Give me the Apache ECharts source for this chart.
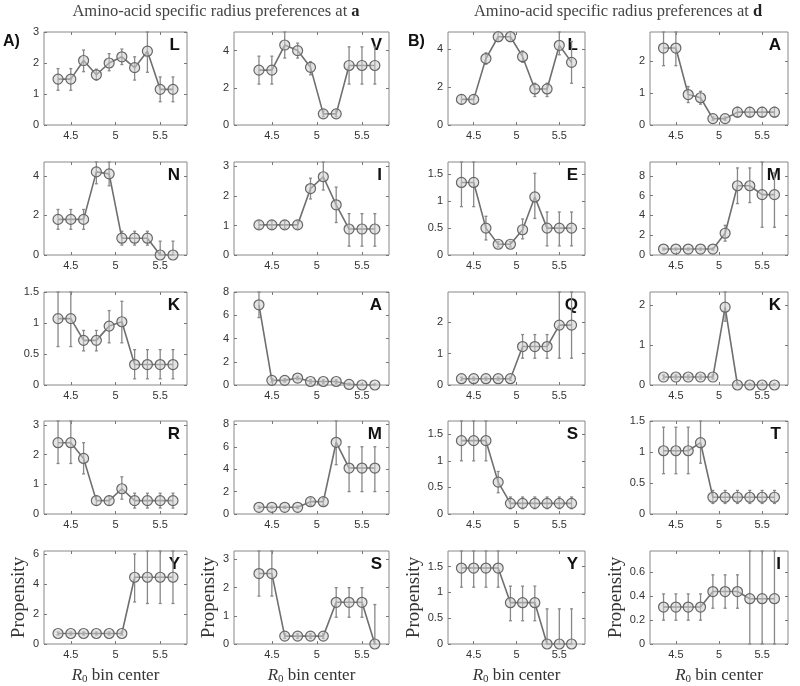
<!DOCTYPE html>
<html>
<head>
<meta charset="utf-8">
<script src="https://cdn.jsdelivr.net/npm/echarts@6/dist/echarts.min.js"></script>
<style>
html,body{margin:0;padding:0;background:#fff;}
#chart{width:800px;height:686px;}
</style>
</head>
<body>
<div id="chart"></div>
<script>
// ---- data ----
const xCenters = [4.357, 4.5, 4.643, 4.786, 4.929, 5.071, 5.214, 5.357, 5.5, 5.643];
const xTicks = [4.5, 5, 5.5];

const A_L_val = [1.48, 1.48, 2.08, 1.62, 2.0, 2.2, 1.85, 2.38, 1.15, 1.15];
const A_L_lo  = [1.12, 1.12, 1.72, 1.45, 1.75, 1.95, 1.45, 1.7, 0.75, 0.75];
const A_L_hi  = [1.82, 1.82, 2.42, 1.8, 2.3, 2.45, 2.2, 3.0, 1.55, 1.55];
const A_L_ticks = [0, 1, 2, 3];

const A_V_val = [2.95, 2.95, 4.3, 4.0, 3.1, 0.6, 0.6, 3.2, 3.2, 3.2];
const A_V_lo  = [2.2, 2.2, 3.6, 3.6, 2.7, 0.45, 0.45, 2.2, 2.2, 2.2];
const A_V_hi  = [3.7, 3.7, 5.0, 4.4, 3.4, 0.75, 0.75, 4.2, 4.2, 4.2];
const A_V_ticks = [0, 2, 4];

const B_L_val = [1.35, 1.35, 3.5, 4.65, 4.65, 3.6, 1.9, 1.9, 4.2, 3.3];
const B_L_lo  = [1.1, 1.1, 3.2, 4.4, 4.4, 3.3, 1.5, 1.5, 3.7, 2.2];
const B_L_hi  = [1.6, 1.6, 3.8, 4.9, 4.9, 3.9, 2.2, 2.2, 4.9, 4.4];
const B_L_ticks = [0, 2, 4];

const B_A_val = [2.4, 2.4, 0.95, 0.85, 0.2, 0.2, 0.4, 0.4, 0.4, 0.4];
const B_A_lo  = [1.85, 1.85, 0.7, 0.65, 0.15, 0.15, 0.25, 0.25, 0.25, 0.25];
const B_A_hi  = [2.9, 2.9, 1.2, 1.05, 0.25, 0.25, 0.55, 0.55, 0.55, 0.55];
const B_A_ticks = [0, 1, 2];

const A_N_val = [1.8, 1.8, 1.8, 4.2, 4.1, 0.85, 0.85, 0.85, 0, 0];
const A_N_lo  = [1.3, 1.3, 1.3, 3.6, 3.5, 0.5, 0.5, 0.5, 0, 0];
const A_N_hi  = [2.3, 2.3, 2.3, 4.7, 4.7, 1.2, 1.2, 1.2, 0.7, 0.7];
const A_N_ticks = [0, 2, 4];

const A_I_val = [1.02, 1.02, 1.02, 1.02, 2.25, 2.65, 1.7, 0.88, 0.88, 0.88];
const A_I_lo  = [0.9, 0.9, 0.9, 0.9, 1.9, 2.2, 1.1, 0.3, 0.3, 0.3];
const A_I_hi  = [1.15, 1.15, 1.15, 1.15, 2.6, 3.15, 2.3, 1.4, 1.4, 1.4];
const A_I_ticks = [0, 1, 2, 3];

const B_E_val = [1.35, 1.35, 0.5, 0.2, 0.2, 0.47, 1.08, 0.5, 0.5, 0.5];
const B_E_lo  = [0.9, 0.9, 0.28, 0.15, 0.15, 0.3, 0.68, 0.17, 0.17, 0.17];
const B_E_hi  = [1.73, 1.73, 0.72, 0.25, 0.25, 0.67, 1.52, 0.8, 0.8, 0.8];
const B_E_ticks = [0, 0.5, 1, 1.5];

const B_M_val = [0.6, 0.6, 0.6, 0.6, 0.6, 2.2, 7.0, 7.0, 6.1, 6.1];
const B_M_lo  = [0.5, 0.5, 0.5, 0.5, 0.5, 1.4, 5.2, 5.3, 2.8, 2.8];
const B_M_hi  = [0.7, 0.7, 0.7, 0.7, 0.7, 3.0, 8.8, 8.8, 9.4, 8.3];
const B_M_ticks = [0, 2, 4, 6, 8];

const A_K_val = [1.07, 1.07, 0.72, 0.72, 0.95, 1.02, 0.33, 0.33, 0.33, 0.33];
const A_K_lo  = [0.62, 0.62, 0.55, 0.55, 0.68, 0.68, 0.1, 0.1, 0.1, 0.1];
const A_K_hi  = [1.5, 1.5, 0.88, 0.88, 1.2, 1.35, 0.57, 0.57, 0.57, 0.57];
const A_K_ticks = [0, 0.5, 1, 1.5];

const A_A_val = [6.9, 0.4, 0.4, 0.6, 0.3, 0.3, 0.3, 0.05, 0, 0];
const A_A_lo  = [5.8, 0.25, 0.25, 0.45, 0.15, 0.15, 0.15, 0, 0, 0];
const A_A_hi  = [8.0, 0.55, 0.55, 0.75, 0.45, 0.45, 0.45, 0.15, 0.1, 0.1];
const A_A_ticks = [0, 2, 4, 6, 8];

const B_Q_val = [0.2, 0.2, 0.2, 0.2, 0.2, 1.22, 1.22, 1.22, 1.9, 1.9];
const B_Q_lo  = [0.15, 0.15, 0.15, 0.15, 0.15, 0.85, 0.85, 0.85, 0.85, 0.85];
const B_Q_hi  = [0.25, 0.25, 0.25, 0.25, 0.25, 1.6, 1.6, 1.6, 2.95, 2.95];
const B_Q_ticks = [0, 1, 2];

const B_K_val = [0.2, 0.2, 0.2, 0.2, 0.2, 1.95, 0, 0, 0, 0];
const B_K_lo  = [0.15, 0.15, 0.15, 0.15, 0.15, 1.6, 0, 0, 0, 0];
const B_K_hi  = [0.25, 0.25, 0.25, 0.25, 0.25, 2.33, 0.03, 0.03, 0.03, 0.03];
const B_K_ticks = [0, 1, 2];

const A_R_val = [2.4, 2.4, 1.87, 0.45, 0.45, 0.85, 0.45, 0.45, 0.45, 0.45];
const A_R_lo  = [1.7, 1.7, 1.35, 0.3, 0.3, 0.5, 0.2, 0.2, 0.2, 0.2];
const A_R_hi  = [3.13, 3.13, 2.4, 0.6, 0.6, 1.25, 0.7, 0.7, 0.7, 0.7];
const A_R_ticks = [0, 1, 2, 3];

const A_M_val = [0.6, 0.6, 0.6, 0.6, 1.1, 1.1, 6.4, 4.1, 4.1, 4.1];
const A_M_lo  = [0.5, 0.5, 0.5, 0.5, 0.8, 0.8, 4.4, 2.0, 2.0, 2.0];
const A_M_hi  = [0.7, 0.7, 0.7, 0.7, 1.4, 1.4, 8.3, 6.0, 6.0, 6.0];
const A_M_ticks = [0, 2, 4, 6, 8];

const B_S_val = [1.38, 1.38, 1.38, 0.6, 0.2, 0.2, 0.2, 0.2, 0.2, 0.2];
const B_S_lo  = [1.0, 1.0, 1.0, 0.4, 0.1, 0.1, 0.1, 0.1, 0.1, 0.1];
const B_S_hi  = [1.75, 1.75, 1.75, 0.8, 0.32, 0.32, 0.32, 0.32, 0.32, 0.32];
const B_S_ticks = [0, 0.5, 1, 1.5];

const B_T_val = [1.02, 1.02, 1.02, 1.15, 0.27, 0.27, 0.27, 0.27, 0.27, 0.27];
const B_T_lo  = [0.65, 0.65, 0.65, 0.82, 0.17, 0.17, 0.17, 0.17, 0.17, 0.17];
const B_T_hi  = [1.4, 1.4, 1.4, 1.5, 0.38, 0.38, 0.38, 0.38, 0.38, 0.38];
const B_T_ticks = [0, 0.5, 1, 1.5];

const A_Y_val = [0.7, 0.7, 0.7, 0.7, 0.7, 0.7, 4.45, 4.45, 4.45, 4.45];
const A_Y_lo  = [0.6, 0.6, 0.6, 0.6, 0.6, 0.6, 2.8, 2.7, 2.7, 2.7];
const A_Y_hi  = [0.8, 0.8, 0.8, 0.8, 0.8, 0.8, 6.0, 6.2, 6.2, 6.2];
const A_Y_ticks = [0, 2, 4, 6];

const A_S_val = [2.5, 2.5, 0.28, 0.28, 0.28, 0.28, 1.48, 1.48, 1.48, 0];
const A_S_lo  = [1.7, 1.7, 0.2, 0.2, 0.2, 0.2, 0.95, 0.95, 0.95, 0];
const A_S_hi  = [3.3, 3.3, 0.36, 0.36, 0.36, 0.36, 2.0, 2.0, 2.0, 1.4];
const A_S_ticks = [0, 1, 2, 3];

const B_Y_val = [1.47, 1.47, 1.47, 1.47, 0.8, 0.8, 0.8, 0, 0, 0];
const B_Y_lo  = [1.1, 1.1, 1.1, 1.1, 0.45, 0.45, 0.45, 0, 0, 0];
const B_Y_hi  = [1.8, 1.8, 1.8, 1.8, 1.12, 1.12, 1.12, 0.68, 0.68, 0.68];
const B_Y_ticks = [0, 0.5, 1, 1.5];

const B_I_val = [0.31, 0.31, 0.31, 0.31, 0.44, 0.44, 0.44, 0.38, 0.38, 0.38];
const B_I_lo  = [0.2, 0.2, 0.2, 0.2, 0.3, 0.3, 0.3, 0, 0, 0];
const B_I_hi  = [0.42, 0.42, 0.42, 0.42, 0.58, 0.58, 0.58, 0.78, 0.78, 0.78];
const B_I_ticks = [0, 0.2, 0.4, 0.6];

// ---- panel list (row, col, y-range) ----
const panels = [
  {t:'L', r:0, c:0, v:A_L_val, lo:A_L_lo, hi:A_L_hi, ymax:3,    yt:A_L_ticks},
  {t:'V', r:0, c:1, v:A_V_val, lo:A_V_lo, hi:A_V_hi, ymax:5,    yt:A_V_ticks},
  {t:'L', r:0, c:2, v:B_L_val, lo:B_L_lo, hi:B_L_hi, ymax:4.9,  yt:B_L_ticks},
  {t:'A', r:0, c:3, v:B_A_val, lo:B_A_lo, hi:B_A_hi, ymax:2.9,  yt:B_A_ticks},
  {t:'N', r:1, c:0, v:A_N_val, lo:A_N_lo, hi:A_N_hi, ymax:4.7,  yt:A_N_ticks},
  {t:'I', r:1, c:1, v:A_I_val, lo:A_I_lo, hi:A_I_hi, ymax:3.15, yt:A_I_ticks},
  {t:'E', r:1, c:2, v:B_E_val, lo:B_E_lo, hi:B_E_hi, ymax:1.73, yt:B_E_ticks},
  {t:'M', r:1, c:3, v:B_M_val, lo:B_M_lo, hi:B_M_hi, ymax:9.4,  yt:B_M_ticks},
  {t:'K', r:2, c:0, v:A_K_val, lo:A_K_lo, hi:A_K_hi, ymax:1.5,  yt:A_K_ticks},
  {t:'A', r:2, c:1, v:A_A_val, lo:A_A_lo, hi:A_A_hi, ymax:8,    yt:A_A_ticks},
  {t:'Q', r:2, c:2, v:B_Q_val, lo:B_Q_lo, hi:B_Q_hi, ymax:2.95, yt:B_Q_ticks},
  {t:'K', r:2, c:3, v:B_K_val, lo:B_K_lo, hi:B_K_hi, ymax:2.33, yt:B_K_ticks},
  {t:'R', r:3, c:0, v:A_R_val, lo:A_R_lo, hi:A_R_hi, ymax:3.13, yt:A_R_ticks},
  {t:'M', r:3, c:1, v:A_M_val, lo:A_M_lo, hi:A_M_hi, ymax:8.3,  yt:A_M_ticks},
  {t:'S', r:3, c:2, v:B_S_val, lo:B_S_lo, hi:B_S_hi, ymax:1.75, yt:B_S_ticks},
  {t:'T', r:3, c:3, v:B_T_val, lo:B_T_lo, hi:B_T_hi, ymax:1.5,  yt:B_T_ticks},
  {t:'Y', r:4, c:0, v:A_Y_val, lo:A_Y_lo, hi:A_Y_hi, ymax:6.2,  yt:A_Y_ticks},
  {t:'S', r:4, c:1, v:A_S_val, lo:A_S_lo, hi:A_S_hi, ymax:3.3,  yt:A_S_ticks},
  {t:'Y', r:4, c:2, v:B_Y_val, lo:B_Y_lo, hi:B_Y_hi, ymax:1.8,  yt:B_Y_ticks},
  {t:'I', r:4, c:3, v:B_I_val, lo:B_I_lo, hi:B_I_hi, ymax:0.78, yt:B_I_ticks}
];

// ---- layout ----
const colLeft  = [44, 234, 448, 650];
const colWidth = [143, 155, 137, 138];
const colXmin  = [4.2, 4.08, 4.2, 4.2];
const xMax = 5.8;
const rowTop = [32, 162, 292, 421, 551];
const panelH = 93;

const sans = 'Liberation Sans, Arial, sans-serif';
const serif = 'Liberation Serif, DejaVu Serif, serif';
const grey = '#777';

const grids = [], xAxes = [], yAxes = [], series = [], graphics = [];

panels.forEach((p, i) => {
  const left = colLeft[p.c], width = colWidth[p.c], top = rowTop[p.r];
  grids.push({left: left, top: top, width: width, height: panelH,
    show: true, borderColor: '#888', borderWidth: 1, backgroundColor: 'transparent'});
  const last = p.r === 4;
  const xBase = {type: 'value', gridIndex: i, min: colXmin[p.c], max: xMax,
    splitLine: {show: false}, axisLine: {show: false, onZero: false},
    axisTick: {show: true, inside: true, length: 3, customValues: xTicks, lineStyle: {color: grey}}};
  xAxes.push(Object.assign({}, xBase, {position: 'bottom',
    axisLabel: {customValues: xTicks, fontSize: 11, color: '#333', margin: 5, fontFamily: sans},
    name: last ? '{i|R}{s|0} bin center' : '', nameLocation: 'middle', nameGap: 22,
    nameTextStyle: {fontFamily: serif, fontSize: 17, color: '#333',
      rich: {i: {fontFamily: serif, fontStyle: 'italic', fontSize: 17, color: '#333'},
             s: {fontFamily: serif, fontSize: 11, color: '#333', verticalAlign: 'bottom', padding: [8, 0, 0, 0]}}}}));
  xAxes.push(Object.assign({}, xBase, {position: 'top', axisLabel: {show: false}}));
  const yBase = {type: 'value', gridIndex: i, min: 0, max: p.ymax,
    splitLine: {show: false}, axisLine: {show: false, onZero: false},
    axisTick: {show: true, inside: true, length: 3, customValues: p.yt, lineStyle: {color: grey}}};
  yAxes.push(Object.assign({}, yBase, {position: 'left',
    axisLabel: {customValues: p.yt, fontSize: 11, color: '#333', margin: 5, fontFamily: sans},
    name: last ? 'Propensity' : '', nameLocation: 'middle', nameGap: 15, nameRotate: 90,
    nameTextStyle: {fontFamily: serif, fontSize: 19, color: '#333'}}));
  yAxes.push(Object.assign({}, yBase, {position: 'right', axisLabel: {show: false}}));

  series.push({
    type: 'custom', xAxisIndex: 2 * i, yAxisIndex: 2 * i, z: 2, silent: true,
    data: xCenters.map((x, k) => [x, p.lo[k], p.hi[k]]),
    encode: {x: 0, y: [1, 2]},
    renderItem: function (params, api) {
      const x = api.value(0);
      const a = api.coord([x, api.value(1)]);
      const b = api.coord([x, api.value(2)]);
      const st = {stroke: '#888', lineWidth: 1.3};
      return {type: 'group', children: [
        {type: 'line', shape: {x1: a[0], y1: a[1], x2: b[0], y2: b[1]}, style: st},
        {type: 'line', shape: {x1: a[0] - 1.5, y1: a[1], x2: a[0] + 1.5, y2: a[1]}, style: st},
        {type: 'line', shape: {x1: b[0] - 1.5, y1: b[1], x2: b[0] + 1.5, y2: b[1]}, style: st}
      ]};
    }
  });
  series.push({
    type: 'line', xAxisIndex: 2 * i, yAxisIndex: 2 * i, z: 3, silent: true,
    data: xCenters.map((x, k) => [x, p.v[k]]),
    symbol: 'circle', symbolSize: 10, showSymbol: true,
    lineStyle: {color: '#6f6f6f', width: 1.6},
    itemStyle: {color: 'rgba(205,205,205,0.55)', borderColor: '#666', borderWidth: 1.2}
  });

  graphics.push({type: 'text', x: left + width - 7, y: top + 5,
    style: {text: p.t, font: 'bold 17px ' + sans, fill: '#111', textAlign: 'right'}});
});

graphics.push({type: 'text', x: 216, y: 3,
  style: {text: 'Amino-acid specific radius preferences at {b|a}', textAlign: 'center',
    font: '16.5px ' + serif, fill: '#444', rich: {b: {fontWeight: 'bold', fontFamily: serif, fontSize: 16.5, fill: '#222'}}}});
graphics.push({type: 'text', x: 618, y: 3,
  style: {text: 'Amino-acid specific radius preferences at {b|d}', textAlign: 'center',
    font: '16.5px ' + serif, fill: '#444', rich: {b: {fontWeight: 'bold', fontFamily: serif, fontSize: 16.5, fill: '#222'}}}});
graphics.push({type: 'text', x: 3, y: 34, style: {text: 'A)', font: 'bold 16px ' + sans, fill: '#111'}});
graphics.push({type: 'text', x: 408, y: 34, style: {text: 'B)', font: 'bold 16px ' + sans, fill: '#111'}});

const chart = echarts.init(document.getElementById('chart'), null, {renderer: 'canvas'});
chart.setOption({
  animation: false,
  backgroundColor: '#fff',
  grid: grids, xAxis: xAxes, yAxis: yAxes, series: series, graphic: graphics
});
</script>
</body>
</html>
